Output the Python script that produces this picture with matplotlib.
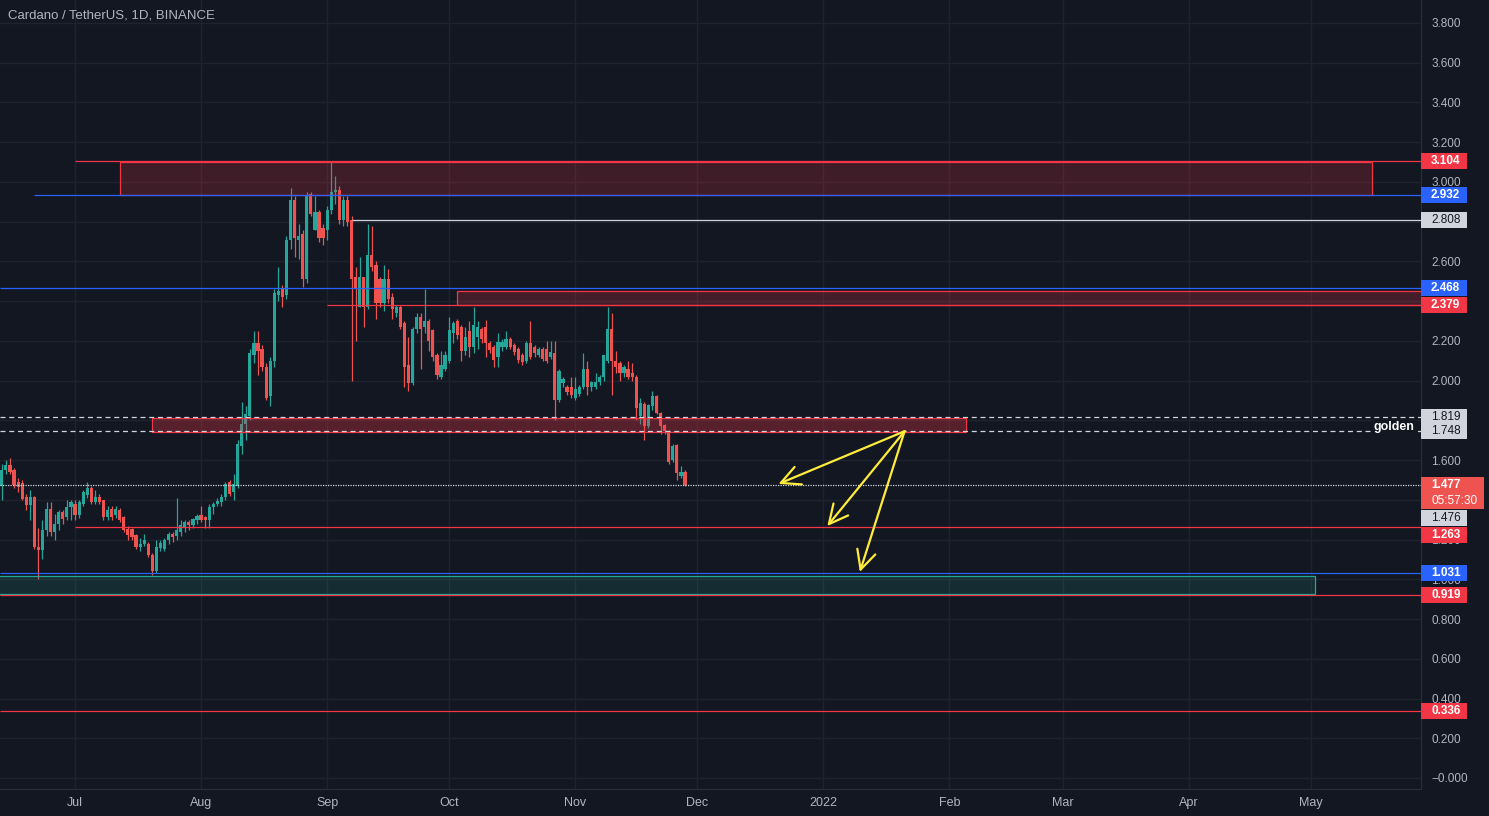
import numpy as np
import pandas as pd
import matplotlib
matplotlib.use('Agg')
import matplotlib.pyplot as plt
import matplotlib.transforms as mtransforms
from matplotlib.patches import Rectangle

# Daily ADA/USDT candles, first bar 2021-06-13
FIRST_DAY = '2021-06-13'
OPENS = [1.47, 1.55, 1.575, 1.55, 1.49, 1.485, 1.415, 1.375, 1.415, 1.165,
         1.145, 1.25, 1.355, 1.24, 1.28, 1.34, 1.315, 1.365, 1.38, 1.325,
         1.38, 1.425, 1.46, 1.39, 1.415, 1.40, 1.315, 1.355, 1.325, 1.35,
         1.315, 1.255, 1.255, 1.225, 1.165, 1.18, 1.18, 1.12, 1.04, 1.155,
         1.15, 1.20, 1.23, 1.22, 1.24, 1.265, 1.29, 1.275, 1.30, 1.325,
         1.315, 1.30, 1.365, 1.38, 1.39, 1.415, 1.49, 1.44, 1.47, 1.67,
         1.78, 1.82, 2.13, 2.19, 2.16, 2.07, 1.92, 2.10, 2.43, 2.46,
         2.43, 2.71, 2.91, 2.71, 2.74, 2.51, 2.94, 2.76, 2.85, 2.77,
         2.76, 2.86, 2.95, 2.96, 2.81, 2.91, 2.81, 2.52, 2.37, 2.52,
         2.37, 2.63, 2.58, 2.51, 2.39, 2.51, 2.42, 2.34, 2.37, 2.29,
         2.08, 1.99, 2.26, 2.32, 2.27, 2.30, 2.255, 2.13, 2.02, 2.06,
         2.10, 2.24, 2.30, 2.27, 2.15, 2.25, 2.17, 2.22, 2.26, 2.27,
         2.19, 2.17, 2.12, 2.17, 2.17, 2.21, 2.18, 2.16, 2.13, 2.10,
         2.19, 2.17, 2.13, 2.16, 2.16, 2.12, 2.14, 1.90, 1.99, 1.97,
         1.97, 1.91, 1.935, 1.97, 2.06, 1.97, 1.97, 1.995, 2.02, 2.10,
         2.26, 2.10, 2.09, 2.04, 2.06, 2.04, 2.02, 1.82, 1.88, 1.77,
         1.87, 1.92, 1.835, 1.775, 1.745, 1.60, 1.675, 1.52, 1.54]
HIGHS = [1.58, 1.60, 1.61, 1.56, 1.51, 1.50, 1.43, 1.45, 1.42, 1.26,
         1.30, 1.39, 1.39, 1.33, 1.35, 1.35, 1.40, 1.40, 1.40, 1.40,
         1.45, 1.49, 1.47, 1.45, 1.43, 1.40, 1.37, 1.37, 1.37, 1.36,
         1.32, 1.27, 1.26, 1.23, 1.21, 1.23, 1.19, 1.13, 1.20, 1.20,
         1.21, 1.24, 1.24, 1.41, 1.30, 1.30, 1.30, 1.31, 1.33, 1.37,
         1.32, 1.38, 1.39, 1.41, 1.43, 1.49, 1.50, 1.53, 1.70, 1.89,
         1.87, 2.16, 2.25, 2.25, 2.18, 2.09, 2.12, 2.46, 2.57, 2.48,
         2.73, 2.97, 2.93, 2.79, 2.76, 2.95, 2.95, 2.93, 2.86, 2.79,
         2.88, 3.10, 3.03, 2.98, 2.93, 2.93, 2.83, 2.57, 2.62, 2.52,
         2.79, 2.78, 2.60, 2.52, 2.58, 2.56, 2.44, 2.38, 2.38, 2.30,
         2.22, 2.27, 2.34, 2.34, 2.46, 2.31, 2.26, 2.14, 2.15, 2.15,
         2.32, 2.30, 2.31, 2.28, 2.27, 2.30, 2.37, 2.30, 2.27, 2.305,
         2.20, 2.18, 2.24, 2.21, 2.25, 2.22, 2.19, 2.17, 2.14, 2.20,
         2.30, 2.18, 2.17, 2.17, 2.20, 2.20, 2.20, 2.06, 2.02, 1.98,
         2.02, 2.02, 1.98, 2.14, 2.10, 2.00, 2.04, 2.03, 2.13, 2.37,
         2.34, 2.15, 2.10, 2.08, 2.10, 2.09, 2.03, 1.91, 1.89, 1.88,
         1.95, 1.93, 1.84, 1.78, 1.75, 1.68, 1.68, 1.57, 1.55]
LOWS = [1.40, 1.53, 1.53, 1.46, 1.44, 1.40, 1.35, 1.30, 1.15, 1.00,
        1.10, 1.22, 1.22, 1.20, 1.25, 1.28, 1.30, 1.30, 1.30, 1.31,
        1.37, 1.41, 1.38, 1.38, 1.38, 1.30, 1.30, 1.30, 1.31, 1.29,
        1.24, 1.20, 1.20, 1.15, 1.14, 1.17, 1.11, 1.02, 1.03, 1.14,
        1.14, 1.18, 1.19, 1.20, 1.22, 1.24, 1.25, 1.26, 1.28, 1.29,
        1.26, 1.26, 1.33, 1.37, 1.37, 1.40, 1.42, 1.40, 1.46, 1.63,
        1.70, 1.80, 2.09, 2.03, 2.05, 1.90, 1.87, 2.07, 2.40, 2.37,
        2.41, 2.66, 2.62, 2.61, 2.47, 2.49, 2.83, 2.76, 2.70, 2.68,
        2.71, 2.84, 2.89, 2.79, 2.78, 2.78, 2.00, 2.20, 2.37, 2.27,
        2.36, 2.55, 2.31, 2.37, 2.35, 2.39, 2.31, 2.32, 2.26, 1.97,
        1.95, 1.98, 2.24, 2.06, 2.24, 2.15, 2.10, 2.01, 2.01, 2.05,
        2.09, 2.19, 2.21, 2.10, 2.13, 2.12, 2.14, 2.16, 2.19, 2.12,
        2.14, 2.07, 2.07, 2.15, 2.16, 2.16, 2.13, 2.09, 2.08, 2.09,
        2.11, 2.12, 2.12, 2.10, 2.09, 2.11, 1.80, 1.89, 1.97, 1.93,
        1.91, 1.90, 1.92, 1.96, 1.93, 1.95, 1.96, 1.98, 2.00, 2.09,
        1.93, 2.04, 2.00, 2.02, 2.01, 2.00, 1.80, 1.78, 1.70, 1.76,
        1.85, 1.83, 1.73, 1.73, 1.58, 1.59, 1.50, 1.51, 1.47]
CLOSES = [1.55, 1.575, 1.54, 1.475, 1.465, 1.405, 1.375, 1.415, 1.165, 1.145,
          1.25, 1.355, 1.24, 1.28, 1.34, 1.305, 1.365, 1.39, 1.325, 1.39,
          1.44, 1.46, 1.39, 1.415, 1.39, 1.315, 1.35, 1.315, 1.355, 1.30,
          1.25, 1.225, 1.215, 1.165, 1.18, 1.20, 1.12, 1.04, 1.165, 1.185,
          1.20, 1.23, 1.215, 1.25, 1.275, 1.29, 1.275, 1.305, 1.32, 1.30,
          1.30, 1.365, 1.38, 1.395, 1.415, 1.48, 1.43, 1.48, 1.68, 1.78,
          1.83, 2.14, 2.19, 2.15, 2.07, 1.91, 2.10, 2.44, 2.45, 2.42,
          2.71, 2.91, 2.72, 2.73, 2.51, 2.93, 2.84, 2.85, 2.72, 2.72,
          2.86, 2.95, 2.96, 2.81, 2.91, 2.80, 2.51, 2.46, 2.52, 2.37,
          2.63, 2.57, 2.39, 2.39, 2.51, 2.41, 2.36, 2.37, 2.27, 2.07,
          1.99, 2.26, 2.32, 2.26, 2.30, 2.20, 2.12, 2.03, 2.08, 2.13,
          2.255, 2.29, 2.23, 2.15, 2.22, 2.17, 2.28, 2.27, 2.21, 2.19,
          2.155, 2.105, 2.195, 2.195, 2.21, 2.17, 2.145, 2.105, 2.095, 2.19,
          2.12, 2.14, 2.16, 2.11, 2.10, 2.145, 1.90, 2.05, 2.01, 1.945,
          1.93, 1.96, 1.97, 2.06, 1.97, 1.995, 1.995, 2.02, 2.13, 2.26,
          2.10, 2.07, 2.04, 2.07, 2.02, 2.02, 1.86, 1.885, 1.77, 1.875,
          1.92, 1.835, 1.77, 1.745, 1.59, 1.67, 1.535, 1.54, 1.477]

# Horizontal levels drawn on the chart
LEVEL_PRICES = [3.104, 2.932, 2.808, 2.468, 2.379, 1.819, 1.748, 1.477,
                1.263, 1.031, 0.919, 0.336]
LEVEL_STARTS = ['2021-07-01', '2021-06-21', '2021-09-07', None, '2021-09-01',
                None, None, None, '2021-07-01', None, None, None]
LEVEL_COLORS = ['#f23645', '#2962ff', '#d1d4dc', '#2962ff', '#f23645',
                '#d1d4dc', '#d1d4dc', '#d1d4dc', '#f23645', '#2962ff',
                '#f23645', '#f23645']
LEVEL_STYLES = ['-', '-', '-', '-', '-', (0, (4, 3)), (0, (4, 3)),
                (0, (1, 1)), '-', '-', '-', '-']

# Price badges on the scale (shift = pixels pushed down to avoid overlap)
BADGE_PRICES = [3.104, 2.932, 2.808, 2.468, 2.379, 1.819, 1.748, 1.476,
                1.263, 1.031, 0.919, 0.336]
BADGE_BG = ['#f23645', '#2962ff', '#d1d4dc', '#2962ff', '#f23645', '#d1d4dc',
            '#d1d4dc', '#d1d4dc', '#f23645', '#2962ff', '#f23645', '#f23645']
BADGE_SHIFT = [0, 0, 0, 0, 0, 0, 0, 33, 8, 0, 0, 0]
LAST_PRICE = 1.477
COUNTDOWN = '05:57:30'

# Rectangle zones
ZONE_TOP = [3.100, 2.451, 1.812, 1.017]
ZONE_BOTTOM = [2.935, 2.380, 1.741, 0.926]
ZONE_START = ['2021-07-12', '2021-10-03', '2021-07-20', '2021-06-01']
ZONE_END = ['2022-05-16', '2022-07-01', '2022-02-05', '2022-05-02']
ZONE_COLOR = ['#f23645', '#f23645', '#f23645', '#22ab94']
ZONE_ALPHA = [0.2, 0.22, 0.3, 0.15]

# Yellow arrows (shared tail)
ARROW_TAIL = ('2022-01-21', 1.745)
ARROW_HEADS = [('2021-12-21', 1.480), ('2022-01-02', 1.268),
               ('2022-01-10', 1.037)]

MONTHS = ['2021-07-01', '2021-08-01', '2021-09-01', '2021-10-01',
          '2021-11-01', '2021-12-01', '2022-01-01', '2022-02-01',
          '2022-03-01', '2022-04-01', '2022-05-01']
MONTH_LABELS = ['Jul', 'Aug', 'Sep', 'Oct', 'Nov', 'Dec', '2022', 'Feb',
                'Mar', 'Apr', 'May']
PRICE_TICKS = [0.0, 0.2, 0.4, 0.6, 0.8, 1.0, 1.2, 1.4, 1.6, 1.8, 2.0, 2.2,
               2.4, 2.6, 2.8, 3.0, 3.2, 3.4, 3.6, 3.8]
# scale labels that sit completely under a price badge are not shown
HIDDEN_TICKS = [1.4, 1.8, 2.4, 2.8]

BG = '#131722'
GRID = '#1f232e'
TEXT = '#b2b5be'
UP = '#26a69a'
DOWN = '#ef5350'
FONT = 'Liberation Sans'

BASE = pd.Timestamp('2021-07-01')
PX_PER_PRICE = 198.7


def day_num(date):
    """Days since 1 Jul 2021 as a float."""
    return (pd.Timestamp(date) - BASE) / pd.Timedelta(days=1)


def tick_label(value):
    """Price scale text, TradingView style."""
    if value in HIDDEN_TICKS:
        return ''
    if value == 0:
        return '\u2212' + f'{value:.3f}'
    return f'{value:.3f}'


dates = pd.date_range(FIRST_DAY, periods=len(CLOSES), freq='D')
x = np.array([day_num(d) for d in dates])
o = np.array(OPENS)
h = np.array(HIGHS)
l = np.array(LOWS)
c = np.array(CLOSES)
colors = np.where(c >= o, UP, DOWN)

X_MIN, X_MAX = -18.45, 331.0

fig = plt.figure(figsize=(14.89, 8.16), dpi=100, facecolor=BG)
ax = fig.add_axes([0, 27 / 816, 1421 / 1489, 789 / 816], facecolor=BG)
ax.set_xlim(X_MIN, X_MAX)
ax.set_ylim(-0.0554, 3.9155)

# candles
ax.vlines(x, l, h, colors=colors, lw=0.9, zorder=3)
body = np.maximum(np.abs(c - o), 0.005)
ax.bar(x, body, bottom=np.minimum(o, c), width=0.78, color=colors,
       linewidth=0, zorder=3)

# zones
for top, bot, start, end, col, alp in zip(ZONE_TOP, ZONE_BOTTOM, ZONE_START,
                                          ZONE_END, ZONE_COLOR, ZONE_ALPHA):
    x0 = day_num(start)
    ax.add_patch(Rectangle((x0, bot), day_num(end) - x0, top - bot,
                           facecolor=col, alpha=alp, edgecolor='none',
                           zorder=4))
    ax.add_patch(Rectangle((x0, bot), day_num(end) - x0, top - bot,
                           facecolor='none', edgecolor=col, lw=0.9, zorder=4))

# levels
for price, start, col, ls in zip(LEVEL_PRICES, LEVEL_STARTS, LEVEL_COLORS,
                                 LEVEL_STYLES):
    x0 = X_MIN if start is None else day_num(start)
    ax.hlines(price, x0, X_MAX, colors=col, linestyles=ls, lw=0.9, zorder=5)

# arrows
tail = (day_num(ARROW_TAIL[0]), ARROW_TAIL[1])
for d, p in ARROW_HEADS:
    ax.annotate('', xy=(day_num(d), p), xytext=tail,
                arrowprops=dict(arrowstyle='->,head_length=0.8,head_width=0.4',
                                color='#ffeb3b', lw=1.6, mutation_scale=17,
                                shrinkA=0, shrinkB=0), zorder=6)

trans = mtransforms.blended_transform_factory(ax.transAxes, ax.transData)
ax.text(0.995, 1.766, 'golden', transform=trans, ha='right', va='center',
        color='white', fontsize=9, fontweight='bold', family=FONT, zorder=7,
        bbox=dict(boxstyle='square,pad=0.1', fc=BG, ec='none'))

# axes styling
ax.yaxis.tick_right()
ax.set_yticks(PRICE_TICKS)
ax.set_yticklabels([tick_label(v) for v in PRICE_TICKS])
ax.set_xticks([day_num(m) for m in MONTHS])
ax.set_xticklabels(MONTH_LABELS)
ax.tick_params(axis='y', length=0, pad=7.5, labelcolor=TEXT, labelsize=8.5)
ax.tick_params(axis='x', length=0, pad=6, labelcolor=TEXT, labelsize=9)
for lab in ax.get_xticklabels() + ax.get_yticklabels():
    lab.set_family(FONT)
ax.grid(True, color=GRID, lw=1)
ax.set_axisbelow(True)
for side in ['top', 'left']:
    ax.spines[side].set_visible(False)
for side in ['right', 'bottom']:
    ax.spines[side].set_color('#2a2e39')

# price badges
BW = 46 / 1421
BH = 16 / PX_PER_PRICE
for price, bg, shift in zip(BADGE_PRICES, BADGE_BG, BADGE_SHIFT):
    light = bg == '#d1d4dc'
    yc = price - shift / PX_PER_PRICE
    ax.add_patch(Rectangle((1.0, yc - BH / 2), BW, BH, transform=trans,
                           facecolor=bg, edgecolor='none', clip_on=False,
                           zorder=8))
    ax.text(1.0 + 10 / 1421, yc, f'{price:.3f}', transform=trans,
            ha='left', va='center', fontsize=8.5, family=FONT,
            color='#131722' if light else 'white',
            fontweight='normal' if light else 'bold', clip_on=False,
            zorder=9)

ax.add_patch(Rectangle((1.0, LAST_PRICE - 24 / PX_PER_PRICE), 63 / 1421,
                       32 / PX_PER_PRICE, transform=trans, facecolor=DOWN,
                       edgecolor='none', clip_on=False, zorder=10))
ax.text(1.0 + 10 / 1421, LAST_PRICE, f'{LAST_PRICE:.3f}', transform=trans,
        ha='left', va='center', fontsize=8.5, family=FONT, color='white',
        fontweight='bold', clip_on=False, zorder=11)
ax.text(1.0 + 10 / 1421, LAST_PRICE - 16 / PX_PER_PRICE, COUNTDOWN,
        transform=trans, ha='left', va='center', fontsize=8.5, family=FONT,
        color='white', clip_on=False, zorder=11)

fig.text(8 / 1489, 1 - 16 / 816, 'Cardano / TetherUS, 1D, BINANCE',
         ha='left', va='center', color=TEXT, fontsize=9.5, family=FONT)

fig.savefig('out.png', dpi=100, facecolor=BG)
